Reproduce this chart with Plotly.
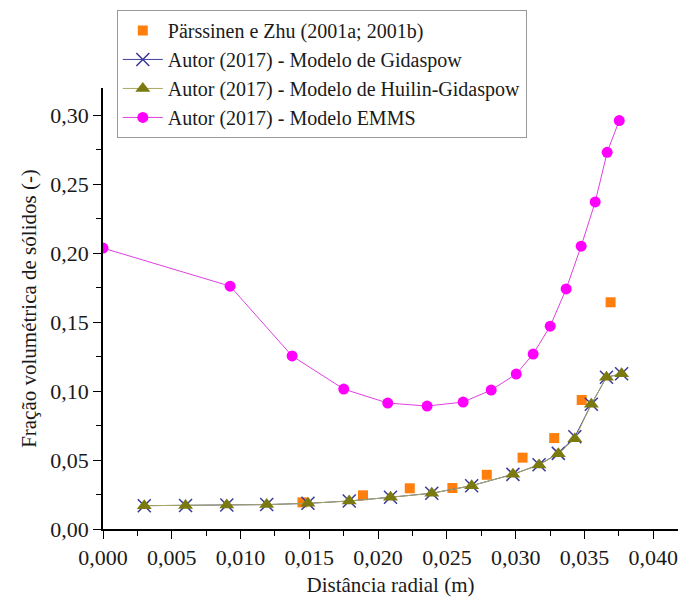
import plotly.graph_objects as go

# Experimental data (Pärssinen e Zhu)
x_exp = [0.0145, 0.0189, 0.0223, 0.0254, 0.0279, 0.0305, 0.0328, 0.0348, 0.0369]
y_exp = [0.0193, 0.0244, 0.0295, 0.0297, 0.0393, 0.0517, 0.0659, 0.0935, 0.1643]

# Simulations (Gidaspow / Huilin-Gidaspow)
x_sim = [0.0030, 0.0060, 0.0090, 0.0119, 0.0149, 0.0179, 0.0209, 0.0239,
         0.0268, 0.0298, 0.0317, 0.0331, 0.0343, 0.0355, 0.0366, 0.0377]
y_gid = [0.0169, 0.0170, 0.0174, 0.0177, 0.0186, 0.0203, 0.0230, 0.0259,
         0.0314, 0.0396, 0.0466, 0.0548, 0.0668, 0.0904, 0.1100, 0.1125]
y_hui = [0.0169, 0.0170, 0.0174, 0.0177, 0.0186, 0.0203, 0.0230, 0.0259,
         0.0314, 0.0396, 0.0464, 0.0546, 0.0654, 0.0904, 0.1100, 0.1125]

# EMMS
x_emms = [0.0, 0.00924, 0.01375, 0.0175, 0.0207, 0.02356, 0.02618, 0.02822,
          0.03004, 0.03127, 0.03251, 0.03367, 0.03476, 0.03578, 0.03665, 0.03753]
y_emms = [0.2036, 0.1760, 0.1254, 0.1014, 0.0913, 0.0891, 0.0920, 0.1007,
          0.1123, 0.1268, 0.1470, 0.1740, 0.2050, 0.2370, 0.2730, 0.2960]

names = ["Pärssinen e Zhu (2001a; 2001b)",
         "Autor (2017) - Modelo de Gidaspow",
         "Autor (2017) - Modelo de Huilin-Gidaspow",
         "Autor (2017) - Modelo EMMS"]

FONT = "Liberation Serif, Times New Roman, serif"
TXT = "#1a1a1a"

fig = go.Figure()
fig.add_trace(go.Scatter(x=x_exp, y=y_exp, mode="markers", name=names[0],
                         marker=dict(symbol="square", size=10, color="#FF7F0E")))
fig.add_trace(go.Scatter(x=x_sim, y=y_gid, mode="lines+markers", name=names[1],
                         line=dict(color="#4040A0", width=1),
                         marker=dict(symbol="x-thin", size=13,
                                     line=dict(color="#3A3A9A", width=1.5))))
fig.add_trace(go.Scatter(x=x_sim, y=y_hui, mode="lines+markers", name=names[2],
                         line=dict(color="#A8A860", width=1),
                         marker=dict(symbol="triangle-up", size=13, color="#7A7A10")))
fig.add_trace(go.Scatter(x=x_emms, y=y_emms, mode="lines+markers", name=names[3],
                         line=dict(color="#E040E0", width=1),
                         marker=dict(symbol="circle", size=11, color="#FF00FF")))

axis_common = dict(showline=True, linecolor="black", linewidth=1.5,
                   ticks="outside", ticklen=8, tickwidth=1.3, tickcolor="black",
                   showgrid=False, zeroline=False, mirror=False,
                   tickfont=dict(family=FONT, size=22, color=TXT))

fig.update_xaxes(range=[0, 0.0418], dtick=0.005, tick0=0, tickformat=".3f",
                 title=dict(text="Distância radial (m)",
                            font=dict(family=FONT, size=21, color=TXT),
                            standoff=8),
                 minor=dict(dtick=0.0025, ticks="outside", ticklen=5,
                            tickcolor="black", tickwidth=1.2),
                 **axis_common)
fig.update_yaxes(range=[0, 0.3196], dtick=0.05, tick0=0, tickformat=".2f",
                 title=dict(text="Fração volumétrica de sólidos (-)",
                            font=dict(family=FONT, size=21, color=TXT),
                            standoff=8),
                 minor=dict(dtick=0.025, ticks="outside", ticklen=5,
                            tickcolor="black", tickwidth=1.2),
                 **axis_common)

fig.update_layout(
    width=678, height=606,
    margin=dict(l=103, r=0, t=88, b=77),
    plot_bgcolor="white", paper_bgcolor="white",
    separators=",.",
    legend=dict(x=0.024, y=1.177, xanchor="left", yanchor="top",
                bordercolor="#999999", borderwidth=1, bgcolor="white",
                font=dict(family=FONT, size=20, color=TXT),
                tracegroupgap=0, itemwidth=40),
    showlegend=True,
)

fig.write_html("out.html")
